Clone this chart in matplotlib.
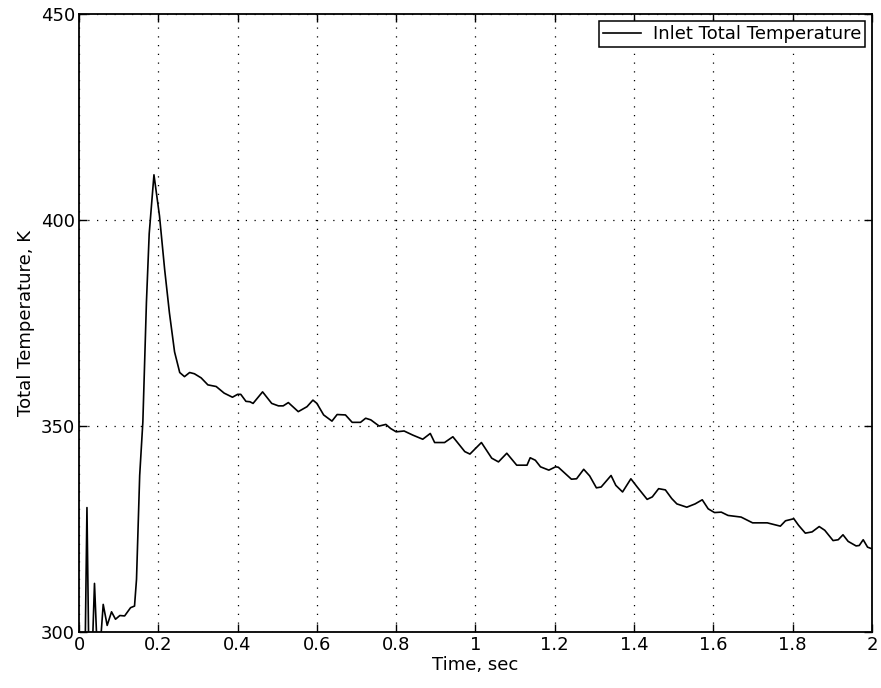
import matplotlib.pyplot as plt

# (time in sec, total temperature in K)
time = [0.0, 0.010, 0.016, 0.020, 0.022, 0.025, 0.030, 0.035, 0.039, 0.044, 0.050, 0.056,
        0.061, 0.071, 0.082, 0.092, 0.103, 0.115, 0.130, 0.140, 0.145, 0.149, 0.153, 0.161,
        0.170, 0.177, 0.189, 0.203, 0.216, 0.228, 0.241, 0.254, 0.266, 0.279, 0.291, 0.308,
        0.325, 0.346, 0.366, 0.387, 0.400, 0.408, 0.421, 0.431, 0.439, 0.463, 0.486, 0.503,
        0.515, 0.528, 0.553, 0.575, 0.590, 0.600, 0.617, 0.638, 0.651, 0.672, 0.689, 0.710,
        0.723, 0.736, 0.757, 0.774, 0.786, 0.800, 0.820, 0.842, 0.867, 0.886, 0.897, 0.922,
        0.943, 0.973, 0.986, 1.015, 1.041, 1.058, 1.079, 1.104, 1.130, 1.138, 1.151, 1.164,
        1.185, 1.202, 1.209, 1.242, 1.255, 1.273, 1.288, 1.305, 1.317, 1.342, 1.354, 1.371,
        1.392, 1.408, 1.433, 1.446, 1.462, 1.479, 1.495, 1.508, 1.533, 1.554, 1.572, 1.587,
        1.603, 1.620, 1.637, 1.670, 1.699, 1.736, 1.769, 1.782, 1.803, 1.815, 1.832, 1.849,
        1.867, 1.881, 1.902, 1.915, 1.927, 1.940, 1.960, 1.968, 1.978, 1.989, 2.0]
temp = [292, 290, 300, 330.2, 315, 292, 288, 300, 311.8, 300, 295, 300,
        306.7, 301.6, 304.9, 303.1, 304.0, 303.9, 305.9, 306.3, 312.8, 325, 338, 351,
        380, 396.7, 411, 401, 388, 377.5, 368, 363, 362, 363, 362.7, 361.7,
        360, 359.6, 358, 357, 357.7, 357.7, 356, 355.9, 355.5, 358.3, 355.5, 354.9,
        354.9, 355.7, 353.5, 354.7, 356.3, 355.5, 352.7, 351.2, 352.8, 352.7, 350.9, 350.9,
        351.9, 351.5, 350, 350.4, 349.4, 348.6, 348.8, 347.8, 346.8, 348.2, 346, 346,
        347.4, 343.8, 343.2, 346, 342.2, 341.3, 343.4, 340.5, 340.5, 342.3, 341.7, 340.1,
        339.3, 340.1, 340, 337.1, 337.2, 339.5, 337.9, 335, 335.2, 338, 335.6, 334,
        337.2, 335.2, 332.2, 332.8, 334.8, 334.5, 332.4, 331.1, 330.3, 331.1, 332.1, 329.9,
        329, 329.1, 328.3, 327.9, 326.5, 326.5, 325.7, 327, 327.5, 325.9, 324, 324.3,
        325.6, 324.7, 322.2, 322.4, 323.6, 322, 320.9, 321, 322.4, 320.6, 320.2]

xticks = [0, 0.2, 0.4, 0.6, 0.8, 1, 1.2, 1.4, 1.6, 1.8, 2]
xticklabels = ['0', '0.2', '0.4', '0.6', '0.8', '1', '1.2', '1.4', '1.6', '1.8', '2']
yticks = [300, 350, 400, 450]

plt.rcParams['font.family'] = ['DejaVu Sans']
plt.rcParams['font.size'] = 13

fig = plt.figure(figsize=(8.81, 6.88), dpi=100)
ax = fig.add_axes([0.0897, 0.0814, 0.900, 0.898])

ax.plot(time, temp, color='black', linewidth=1.2, label='Inlet Total Temperature')

ax.set_xlim(0, 2)
ax.set_ylim(300, 450)
ax.set_xticks(xticks)
ax.set_xticklabels(xticklabels)
ax.set_yticks(yticks)
ax.tick_params(direction='in', top=True, right=True, length=6, width=1, pad=3)
ax.grid(True, color='black', linestyle=(0, (1, 6)), linewidth=0.9)
for s in ax.spines.values():
    s.set_linewidth(1.3)

ax.set_xlabel('Time, sec', labelpad=1)
ax.set_ylabel('Total Temperature, K', labelpad=4)

leg = ax.legend(loc='upper right', fancybox=False, edgecolor='black', framealpha=1,
                handlelength=2.1, borderpad=0.2, borderaxespad=0.4, handletextpad=0.65)
leg.get_frame().set_linewidth(1.1)

fig.savefig('out.png', dpi=100)
